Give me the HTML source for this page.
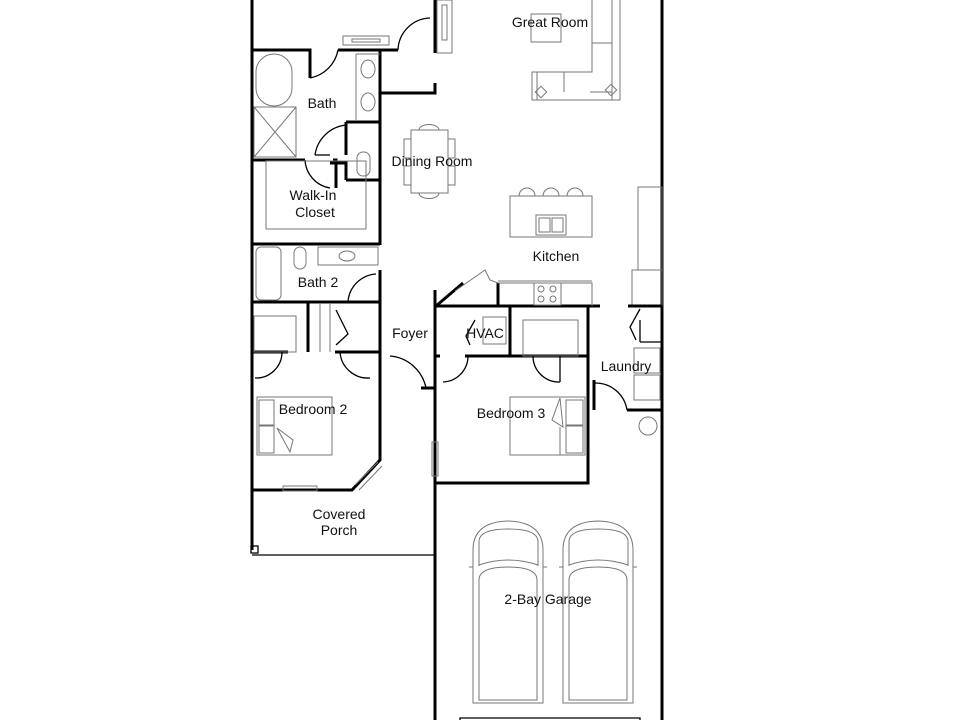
<!DOCTYPE html>
<html><head><meta charset="utf-8"><style>
html,body{margin:0;padding:0;background:#fff;width:960px;height:720px;overflow:hidden}
svg{display:block}
text{font-family:"Liberation Sans",sans-serif;font-size:14px;fill:#111;text-anchor:middle}
.w{stroke:#000;stroke-width:3;fill:none}
.t{stroke:#000;stroke-width:1.3;fill:none}
.f{stroke:#777;stroke-width:1;fill:none}
</style></head><body>
<svg width="960" height="720" viewBox="0 0 960 720">
<!-- outer walls -->
<path class="w" d="M252 0 V550"/>
<path class="w" d="M662 0 V720"/>
<path class="w" d="M435 290 V720"/>
<path class="t" d="M252 555 H435"/>
<rect x="251" y="546" width="7" height="7" class="t"/>
<!-- top left walls -->
<path class="w" d="M252 50 H310 V78"/>
<path class="t" d="M310 78 A35 35 0 0 0 338 50"/>
<path class="w" d="M338 50 H398"/>
<path class="t" d="M398 50 A33 33 0 0 1 430 18"/>
<path class="w" d="M435 0 V53 M435 83 V93 H380"/>
<rect x="343" y="36" width="46" height="9" class="f"/>
<rect x="352" y="39" width="28" height="3" class="f"/>
<rect x="437" y="0" width="15" height="53" class="f"/><rect x="442" y="5" width="5" height="35" class="f"/>
<!-- bath -->
<path class="w" d="M380 50 V245"/>
<rect x="256" y="54" width="36" height="52" rx="18" class="f"/>
<rect x="254" y="107" width="42" height="50" class="f"/>
<path class="f" d="M254 107 L296 157 M296 107 L254 157"/>
<path class="f" d="M356 54 V120 M356 54 H380"/>
<ellipse cx="368" cy="69" rx="7" ry="9" class="f"/><ellipse cx="368" cy="102" rx="7" ry="9" class="f"/>
<path class="w" d="M346 122 H380 M346 122 V155 M346 180 H380 M346 180 V163 H330"/>
<path class="t" d="M315 155 A35 35 0 0 1 346 125"/>
<path class="t" d="M315 155 H330"/>
<rect x="357" y="152" width="13" height="24" rx="6" class="f"/>
<!-- walk-in closet -->
<path class="w" d="M252 160 H305 M333 160 H336 V188"/>
<path class="t" d="M305 160 A30 30 0 0 0 330 188"/>
<rect x="266" y="161" width="100" height="68" class="f"/>
<path class="w" d="M252 244 H380"/>
<!-- bath2 -->
<rect x="256" y="247" width="25" height="53" rx="5" class="f"/>
<rect x="318" y="247" width="60" height="18" class="f"/>
<ellipse cx="347" cy="256" rx="8" ry="5" class="f"/>
<rect x="294" y="247" width="12" height="22" rx="6" class="f"/>
<path class="w" d="M252 302 H380 M380 270 V302"/>
<path class="t" d="M348 302 A30 30 0 0 1 376 274"/>
<!-- closets -->
<path class="w" d="M308 302 V352 M252 352 H288 M335 352 H380 M380 302 V388"/>
<rect x="254" y="316" width="42" height="36" class="f"/>
<path class="f" d="M320 303 V352 M330 303 V352"/>
<path class="t" d="M255 378 A26 26 0 0 0 282 352 M340 352 A28 28 0 0 0 370 378"/>
<path class="t" d="M336 310 L348 334 L336 345"/>
<!-- bedroom 2 -->
<path class="w" d="M380 352 V460 L352 490 H252"/>
<rect x="283" y="486" width="34" height="5" class="f" fill="#fff"/>
<path class="f" d="M355 485 L378 462 M359 490 L382 466"/>
<rect x="257" y="397" width="75" height="58" class="f"/>
<rect x="259" y="400" width="15" height="25" class="f"/><rect x="259" y="426" width="15" height="27" class="f"/>
<path class="f" d="M277 428 L293 440 L290 452 Z"/>
<!-- foyer / front door -->
<path class="w" d="M380 388 V380 M421 388 H435"/>
<path class="t" d="M390 356 A40 40 0 0 1 426 388"/>
<rect x="432" y="442" width="6" height="34" class="f" fill="#fff"/>
<!-- kitchen counter walls -->
<path class="w" d="M435 306 H600 M436 306 L463 283 M498 283 V306"/>
<path class="f" d="M455 291 L485 270 L490 280 L498 283 H592 V306 M498 281 H592"/>
<rect x="534" y="283" width="27" height="22" class="f"/>
<circle cx="541" cy="289" r="3" class="f"/><circle cx="553" cy="289" r="3" class="f"/>
<circle cx="541" cy="299" r="3" class="f"/><circle cx="553" cy="299" r="3" class="f"/>
<!-- island -->
<rect x="510" y="196" width="82" height="41" class="f"/>
<rect x="536" y="215" width="30" height="20" class="f"/>
<rect x="539" y="218" width="11" height="14" class="f"/><rect x="552" y="218" width="11" height="14" class="f"/>
<path class="f" d="M519 196 A8 8 0 0 1 535 196 M543 196 A8 8 0 0 1 559 196 M567 196 A8 8 0 0 1 583 196"/>
<rect x="638" y="187" width="24" height="83" class="f"/>
<rect x="632" y="270" width="30" height="35" class="f"/>
<path class="w" d="M628 306 H662"/>
<!-- HVAC -->
<path class="w" d="M510 306 V356 M435 356 H440 M465 356 H588 M435 290 V380"/>
<rect x="483" y="317" width="23" height="27" class="f"/>
<path class="t" d="M475 320 L466 336 L470 345"/>
<path class="t" d="M443 382 A26 26 0 0 0 468 356"/>
<rect x="523" y="320" width="55" height="36" class="f"/>
<path class="t" d="M533 356 A26 26 0 0 0 560 382 M560 382 V356"/>
<!-- bedroom 3 -->
<path class="w" d="M588 306 V483 H435"/>
<rect x="510" y="397" width="75" height="58" class="f"/>
<rect x="566" y="400" width="17" height="25" class="f"/><rect x="566" y="426" width="17" height="27" class="f"/>
<path class="f" d="M560 398 L563 427 L552 420 Z M560 427 V455"/>
<!-- laundry -->
<path class="w" d="M594 410 V380 M627 410 H662"/>
<path class="t" d="M595 383 A32 32 0 0 1 627 410"/>
<path class="t" d="M640 309 L630 327 L636 340 M640 320 V342 M640 342 H662"/>
<rect x="634" y="348" width="26" height="25" class="f"/><rect x="634" y="375" width="26" height="25" class="f"/>
<circle cx="648" cy="426" r="9" class="f"/>
<!-- great room furniture -->
<rect x="531" y="14" width="30" height="28" class="f"/>
<path class="f" d="M592 0 V72 H532 V100 H620 V0 M532 72 V96 M612 0 V100 M592 18 V43 H612 M592 43 V72"/>
<path class="f" d="M537 72 V100 M564 72 V92 M590 92 H612"/>
<rect x="537" y="88" width="8" height="8" class="f" transform="rotate(45 541 92)"/>
<rect x="607" y="86" width="8" height="8" class="f" transform="rotate(45 611 90)"/>
<!-- dining -->
<rect x="411" y="130" width="37" height="63" class="f"/>
<path class="f" d="M419 130 A9 5 0 0 1 439 130 M419 193 A9 5 0 0 0 439 193"/>
<path class="f" d="M411 139 H404 V158 H411 M411 166 H404 V185 H411 M448 139 H455 V158 H448 M448 166 H455 V185 H448"/>
<!-- garage cars -->
<g class="f">
<path d="M473 703 V550 Q473 522 508 521 Q543 522 543 550 V703 Z"/>
<path d="M479 566 V541 Q480 529 508 529 Q537 529 538 541 V566"/>
<path d="M479 565 Q508 555 538 565"/>
<path d="M479 700 V580 Q479 567 508 567 Q537 567 537 580 V700 Z"/>
<path d="M563 703 V550 Q563 522 598 521 Q633 522 633 550 V703 Z"/>
<path d="M569 566 V541 Q570 529 598 529 Q627 529 628 541 V566"/>
<path d="M569 565 Q598 555 628 565"/>
<path d="M569 700 V580 Q569 567 598 567 Q627 567 627 580 V700 Z"/>
<path d="M473 567 H469 M543 567 H547 M563 567 H559 M633 567 H637"/>
</g>
<path class="t" d="M460 720 V718 H640 V720"/>
<!-- labels -->
<text x="550" y="27">Great Room</text>
<text x="322" y="108">Bath</text>
<text x="432" y="166">Dining Room</text>
<text x="313" y="200">Walk-In</text>
<text x="315" y="217">Closet</text>
<text x="556" y="261">Kitchen</text>
<text x="318" y="287">Bath 2</text>
<text x="410" y="338">Foyer</text>
<text x="485" y="338">HVAC</text>
<text x="626" y="371">Laundry</text>
<text x="313" y="414">Bedroom 2</text>
<text x="511" y="418">Bedroom 3</text>
<text x="339" y="519">Covered</text>
<text x="339" y="535">Porch</text>
<text x="548" y="604">2-Bay Garage</text>
</svg>
</body></html>
